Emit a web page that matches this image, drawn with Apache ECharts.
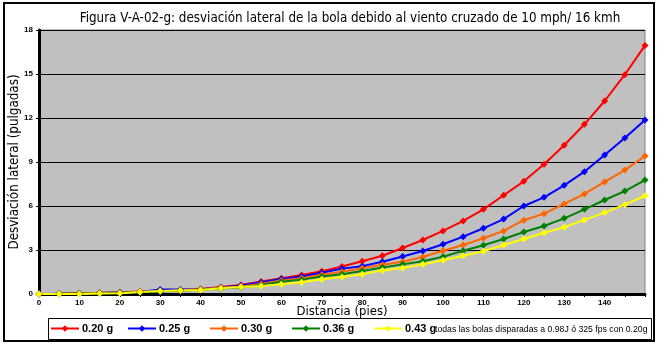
<!DOCTYPE html>
<html>
<head>
<meta charset="utf-8">
<script src="https://cdn.jsdelivr.net/npm/echarts@6/dist/echarts.min.js"></script>
<style>html,body{margin:0;padding:0;background:#fff;}#c{width:659px;height:345px;}</style>
</head>
<body>
<div id="c"></div>
<script>
const categories = ['0','5','10','15','20','25','30','35','40','45','50','55','60','65','70','75','80','85','90','95','100','105','110','115','120','125','130','135','140','145','150'];
const s020 = [0,0.02,0.05,0.08,0.12,0.17,0.22,0.28,0.34,0.48,0.61,0.86,1.08,1.30,1.55,1.87,2.23,2.61,3.14,3.68,4.30,4.98,5.77,6.73,7.68,8.84,10.14,11.57,13.16,14.95,16.95];
const s025 = [0,0.02,0.04,0.07,0.10,0.14,0.30,0.30,0.33,0.45,0.58,0.80,1.02,1.20,1.45,1.73,1.90,2.20,2.56,2.93,3.39,3.91,4.48,5.11,6.00,6.59,7.41,8.34,9.48,10.64,11.86];
const s030 = [0,0.01,0.03,0.06,0.09,0.13,0.19,0.25,0.32,0.42,0.52,0.70,0.92,1.07,1.32,1.52,1.75,2.00,2.20,2.52,2.95,3.34,3.80,4.30,5.03,5.48,6.14,6.82,7.64,8.45,9.41];
const s036 = [0,0.01,0.03,0.05,0.08,0.12,0.17,0.23,0.29,0.38,0.46,0.61,0.84,0.98,1.20,1.34,1.57,1.80,2.02,2.23,2.54,2.95,3.32,3.75,4.23,4.64,5.16,5.77,6.41,7.02,7.77];
const s043 = [0,0,0,0.04,0.05,0.14,0.20,0.24,0.27,0.39,0.48,0.55,0.66,0.80,1.00,1.16,1.34,1.61,1.78,2.02,2.30,2.61,2.91,3.34,3.75,4.18,4.55,5.05,5.55,6.09,6.70];
const seriesNames = ['0.20 g','0.25 g','0.30 g','0.36 g','0.43 g'];
const seriesColors = ['#FF0000','#0000FF','#FF6600','#008000','#FFFF00'];
const seriesData = [s020,s025,s030,s036,s043];
const yTicks = [0,3,6,9,12,15,18];
const labeledCategories = ['0','10','20','30','40','50','60','70','80','90','100','110','120','130','140'];

const chart = echarts.init(document.getElementById('c'), null, {renderer:'canvas'});
const legendLefts = [50,127,209,291,373];
const legendFont = {fontFamily:'Liberation Sans, Arial, sans-serif', fontWeight:'bold', fontSize:11, color:'#000'};
const option = {
  animation:false,
  backgroundColor:'#fff',
  title:{
    text:'Figura V-A-02-g: desviación lateral de la bola debido al viento cruzado de 10 mph/ 16 kmh',
    left:345, top:7, textAlign:'center',
    textStyle:{fontFamily:'DejaVu Sans Condensed, sans-serif', fontWeight:'normal', fontSize:13.3, color:'#000'}
  },
  grid:{left:37, right:14, top:30, bottom:51, show:true, backgroundColor:'#C0C0C0', borderColor:'#808080', borderWidth:1},
  legend: seriesNames.map((n,i)=>({
    data:[n], left:legendLefts[i], top:323, itemWidth:28, itemHeight:8, itemGap:0,
    textStyle:Object.assign({padding:[0,0,0,-2]}, legendFont), padding:0
  })),
  xAxis:{
    type:'category', data:categories, boundaryGap:false,
    name:'Distancia (pies)', nameLocation:'middle', nameGap:11, nameMoveOverlap:false,
    nameTextStyle:{fontFamily:'DejaVu Sans Condensed, sans-serif', fontSize:13, color:'#000', verticalAlign:'top'},
    axisLine:{lineStyle:{color:'#000', width:3}},
    axisTick:{show:true, interval:0, length:3, lineStyle:{color:'#000', width:1}},
    axisLabel:{interval:(idx,val)=>labeledCategories.indexOf(val)>=0, margin:5, fontFamily:'Liberation Sans, Arial, sans-serif', fontWeight:'bold', fontSize:8, color:'#000'},
    splitLine:{show:false}
  },
  yAxis:{
    type:'value', min:yTicks[0], max:yTicks[yTicks.length-1], interval:3,
    name:'Desviación lateral (pulgadas)', nameLocation:'middle', nameGap:18, nameRotate:90, nameMoveOverlap:false,
    nameTextStyle:{fontFamily:'DejaVu Sans Condensed, sans-serif', fontSize:13.3, color:'#000'},
    axisLine:{show:true, lineStyle:{color:'#000', width:3}},
    axisTick:{show:true, length:3, lineStyle:{color:'#000', width:1}},
    axisLabel:{margin:6, fontFamily:'Liberation Sans, Arial, sans-serif', fontWeight:'bold', fontSize:8, color:'#000'},
    splitLine:{show:true, lineStyle:{color:'#000', width:1}}
  },
  series: seriesNames.map((n,i)=>({
    name:n, type:'line', data:seriesData[i], symbol:'diamond', symbolSize:7,
    itemStyle:{color:seriesColors[i]}, lineStyle:{color:seriesColors[i], width:2}
  })),
  graphic:[
    {type:'rect', shape:{x:4, y:3, width:650, height:338}, style:{fill:'none', stroke:'#000', lineWidth:2}, z:-10, silent:true},
    {type:'rect', shape:{x:48.5, y:318.5, width:603, height:21}, style:{fill:'none', stroke:'#000', lineWidth:1}, silent:true},
    {type:'text', x:435, y:325, style:{text:'todas las bolas disparadas a 0.98J ó 325 fps con 0.20g', font:'8.7px "Liberation Sans", Arial, sans-serif', fill:'#000'}}
  ]
};
chart.setOption(option);
</script>
</body>
</html>
